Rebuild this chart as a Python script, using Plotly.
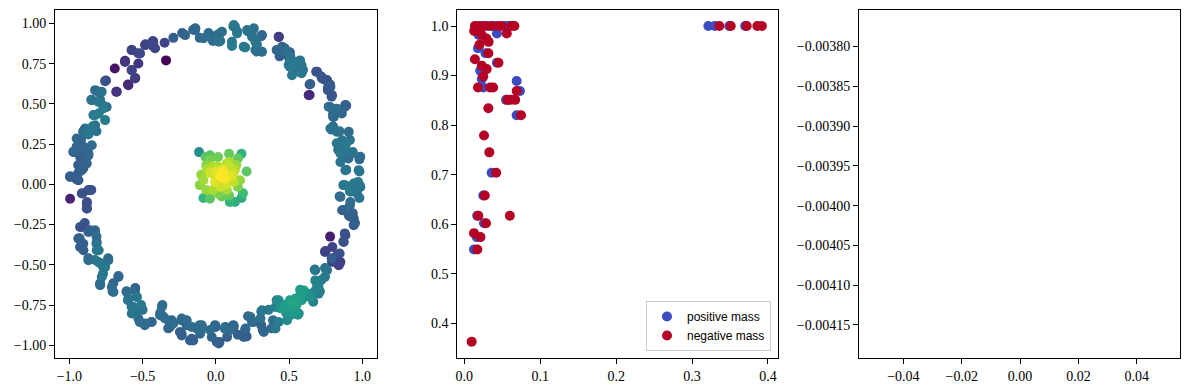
import plotly.graph_objects as go

# ---------------- Left panel: ring + core, coloured by value (viridis) ----------------
ring_x = [-0.29, -0.23, -0.155, -0.14, -0.11, -0.05, -0.02, 0.03, 0.03, 0.12, 0.13, 0.145, 0.11, 0.20, 0.22,
          0.255, 0.27, 0.28, 0.31, 0.31, 0.28,
          -0.34, -0.35, -0.43, -0.48, -0.43, -0.53, -0.575, -0.69, -0.62, -0.575, -0.55, -0.60, -0.75, -0.68,
          -0.815, -0.85, -0.79, -0.77, -0.745, -0.80, -0.825, -0.84, -0.88, -0.905, -0.87, -0.815, -0.92, -0.95,
          -0.97, -0.92, -0.94, -0.87, -0.89, -0.905, -0.995, -0.95, -0.94,
          -0.995, -0.91, -0.87, -0.85, -0.88, -0.88, -0.915, -0.895, -0.93, -0.905, -0.86, -0.825, -0.815, -0.815,
          -0.80, -0.87, -0.825, -0.79, -0.77, -0.735, -0.77, -0.79, -0.70, -0.705, -0.665, -0.61, -0.60, -0.55,
          -0.54, -0.575, -0.55, -0.51, -0.50, -0.52, -0.485, -0.44, -0.365, -0.38, -0.36, -0.315, -0.325, -0.29,
          -0.235, -0.235, -0.20, -0.165, -0.13, -0.11, -0.10, -0.04, -0.005, 0.025, 0.06, 0.095, 0.12, 0.15,
          0.20, 0.21, 0.22, 0.255, 0.31, 0.31, 0.32, 0.36, 0.38, 0.39, 0.415, 0.44, 0.47, 0.48, 0.505, 0.53,
          0.55, 0.56, 0.575, 0.585, 0.61, 0.63, 0.665, 0.675, 0.70, 0.71, 0.675, 0.72, 0.685, 0.745, 0.745,
          0.79, 0.845, 0.845, 0.795, 0.78, 0.745, 0.87, 0.88, 0.915, 0.95, 0.935, 0.915, 0.87, 0.925, 0.98,
          0.98, 0.97, 0.87, 0.915, 0.845, 0.98, 0.98, 0.89, 0.905, 0.87, 0.935, 0.915, 0.89, 0.87, 0.825,
          0.835, 0.80, 0.79, 0.845, 0.80, 0.80, 0.86, 0.88, 0.825, 0.89, 0.78, 0.765, 0.745, 0.72, 0.685,
          0.765, 0.79, 0.78, 0.64, 0.64, 0.505, 0.54, 0.575, 0.585, 0.55, 0.53, 0.585, 0.595, 0.505, 0.48,
          0.435, 0.415, 0.435, 0.47, 0.505, 0.43,
          # upper-left arc
          -0.21, -0.142, -0.083, -0.017, 0.017, -0.427, -0.483, -0.415, -0.517, -0.574, -0.529, -0.620,
          -0.574, -0.552, -0.597, -0.756, -0.676, -0.824, -0.779, -0.847, -0.802, -0.768, -0.756, -0.836,
          -0.824, -0.893, -0.870, -0.904, -0.95, -0.973, -0.904, -0.847, -0.870, -0.927, -0.881, -0.915,
          -0.995, -0.95, -0.938,
          # upper-right arc
          0.008, 0.042, 0.020, 0.122, 0.145, 0.11, 0.19, 0.213, 0.259, 0.247, 0.27, 0.315, 0.27, 0.315,
          0.429, 0.418, 0.452, 0.486, 0.509, 0.497, 0.532, 0.577, 0.566, 0.52, 0.691, 0.725, 0.759, 0.645,
          0.634, 0.782, 0.793, 0.884, 0.85, 0.77, 0.805, 0.782, 0.828, 0.907, 0.862, 0.884, 0.85, 0.929,
          0.986, 0.85, 0.884, 0.975,
          # lower-left arc
          -0.915, -0.859, -0.881, -0.881, -0.904, -0.927, -0.870, -0.824, -0.813, -0.939, -0.927, -0.904,
          -0.813, -0.870, -0.802, -0.734, -0.756, -0.779, -0.665, -0.79, -0.71, -0.699, -0.608, -0.552,
          -0.597, -0.54, -0.563, -0.517, -0.574, -0.529, -0.483, -0.438, -0.369, -0.381, -0.347, -0.301,
          -0.313, -0.233, -0.199, -0.245, -0.233, -0.165, -0.154, -0.096, -0.108, -0.028, -0.005, 0.006,
          -0.176,
          # lower-right arc
          0.884, 0.941, 0.986, 0.964, 0.85, 0.918, 0.862, 0.907, 0.941, 0.941, 0.884, 0.873, 0.748, 0.828,
          0.793, 0.85, 0.839, 0.679, 0.759, 0.679, 0.691, 0.702, 0.600, 0.577, 0.645, 0.543, 0.52, 0.486,
          0.429, 0.463, 0.407, 0.543, 0.566, 0.509, 0.486, 0.429, 0.407, 0.327, 0.315, 0.304, 0.236, 0.247,
          0.202, 0.19, 0.122, 0.065, 0.077, 0.02, -0.003]
ring_y = [0.91, 0.94, 0.96, 0.97, 0.91, 0.94, 0.89, 0.94, 0.89, 0.98, 0.98, 0.95, 0.86, 0.85, 0.95,
          0.96, 0.90, 0.87, 0.92, 0.825, 0.825,
          0.77, 0.88, 0.89, 0.87, 0.86, 0.815, 0.835, 0.72, 0.76, 0.71, 0.66, 0.62, 0.645, 0.575,
          0.58, 0.525, 0.525, 0.49, 0.48, 0.44, 0.43, 0.36, 0.34, 0.33, 0.31, 0.33, 0.275, 0.235,
          0.20, 0.19, 0.12, 0.18, 0.14, 0.10, 0.05, 0.03, 0.07,
          -0.09, -0.055, -0.035, -0.035, -0.11, -0.15, -0.265, -0.24, -0.335, -0.37, -0.285, -0.285, -0.325, -0.37,
          -0.41, -0.46, -0.47, -0.49, -0.51, -0.46, -0.555, -0.615, -0.615, -0.665, -0.57, -0.665, -0.72, -0.645,
          -0.70, -0.76, -0.80, -0.75, -0.78, -0.855, -0.875, -0.855, -0.75, -0.80, -0.82, -0.855, -0.895, -0.865,
          -0.845, -0.925, -0.875, -0.96, -0.895, -0.875, -0.905, -0.905, -0.875, -0.98, -0.895, -0.905, -0.875, -0.935,
          -0.905, -0.945, -0.82, -0.855, -0.79, -0.875, -0.905, -0.78, -0.895, -0.845, -0.72, -0.77, -0.75, -0.80, -0.72, -0.79,
          -0.75, -0.81, -0.655, -0.72, -0.70, -0.68, -0.73, -0.665, -0.635, -0.665, -0.53, -0.595, -0.605, -0.575, -0.52,
          -0.46, -0.43, -0.49, -0.39, -0.325, -0.42, -0.355, -0.305, -0.20, -0.24, -0.18, -0.13, -0.16, -0.045, -0.085,
          -0.005, 0.015, -0.005, -0.045, -0.075, 0.08, 0.155, 0.09, 0.16, 0.19, 0.20, 0.275, 0.255, 0.235, 0.255,
          0.215, 0.36, 0.34, 0.33, 0.42, 0.435, 0.44, 0.48, 0.47, 0.49, 0.48, 0.60, 0.65, 0.67, 0.70,
          0.585, 0.545, 0.62, 0.62, 0.555, 0.77, 0.76, 0.77, 0.74, 0.73, 0.70, 0.69, 0.71, 0.73, 0.805,
          0.825, 0.835, 0.795, 0.845, 0.82, 0.915,
          # upper-left arc
          0.927, 0.958, 0.907, 0.896, 0.907, 0.886, 0.865, 0.845, 0.813, 0.834, 0.751, 0.767,
          0.709, 0.658, 0.616, 0.641, 0.575, 0.585, 0.575, 0.523, 0.513, 0.471, 0.399, 0.43,
          0.367, 0.347, 0.326, 0.326, 0.285, 0.202, 0.233, 0.243, 0.192, 0.170, 0.129, 0.088,
          0.046, 0.046, 0.025,
          # upper-right arc
          0.927, 0.948, 0.886, 0.99, 0.938, 0.886, 0.855, 0.958, 0.969, 0.917, 0.886, 0.927, 0.834, 0.824,
          0.917, 0.834, 0.855, 0.824, 0.793, 0.741, 0.709, 0.751, 0.699, 0.678, 0.699, 0.658, 0.648, 0.623,
          0.554, 0.606, 0.554, 0.492, 0.461, 0.482, 0.419, 0.347, 0.326, 0.326, 0.274, 0.233, 0.192, 0.192,
          0.171, 0.139, 0.088, 0.088,
          # lower-left arc
          -0.057, -0.037, -0.12, -0.15, -0.254, -0.265, -0.296, -0.296, -0.358, -0.337, -0.389, -0.41,
          -0.41, -0.472, -0.483, -0.472, -0.514, -0.576, -0.576, -0.627, -0.638, -0.669, -0.669, -0.659,
          -0.71, -0.70, -0.762, -0.762, -0.803, -0.834, -0.865, -0.855, -0.762, -0.814, -0.834, -0.845,
          -0.886, -0.834, -0.845, -0.918, -0.939, -0.886, -0.97, -0.876, -0.928, -0.949, -0.886, -0.98,
          -0.97,
          # lower-right arc
          -0.006, 0.005, -0.016, -0.057, -0.078, -0.11, -0.161, -0.193, -0.213, -0.254, -0.317, -0.358, -0.414, -0.441,
          -0.483, -0.483, -0.503, -0.534, -0.534, -0.597, -0.638, -0.679, -0.659, -0.69, -0.70, -0.71, -0.741, -0.752,
          -0.72, -0.772, -0.762, -0.793, -0.803, -0.814, -0.845, -0.855, -0.896, -0.918, -0.783, -0.834, -0.824, -0.855,
          -0.896, -0.948, -0.886, -0.886, -0.948, -0.989, -0.886]
ring_c = [0.30, 0.30, 0.32, 0.33, 0.33, 0.35, 0.36, 0.37, 0.38, 0.40, 0.40, 0.40, 0.42, 0.40, 0.38,
          0.37, 0.36, 0.38, 0.33, 0.35, 0.36,
          0.00, 0.20, 0.20, 0.20, 0.22, 0.20, 0.15, 0.05, 0.15, 0.20, 0.15, 0.10, 0.15, 0.12,
          0.30, 0.30, 0.35, 0.40, 0.35, 0.42, 0.42, 0.40, 0.38, 0.35, 0.40, 0.38, 0.32, 0.33,
          0.30, 0.30, 0.30, 0.30, 0.32, 0.30, 0.30, 0.28, 0.30,
          0.10, 0.25, 0.25, 0.25, 0.25, 0.25, 0.25, 0.25, 0.30, 0.30, 0.30, 0.33, 0.35, 0.38,
          0.40, 0.33, 0.38, 0.40, 0.40, 0.35, 0.40, 0.30, 0.30, 0.35, 0.30, 0.35, 0.35, 0.30,
          0.35, 0.38, 0.38, 0.40, 0.38, 0.35, 0.35, 0.33, 0.35, 0.35, 0.35, 0.33, 0.33, 0.35,
          0.33, 0.30, 0.33, 0.30, 0.35, 0.35, 0.35, 0.35, 0.33, 0.30, 0.35, 0.35, 0.33, 0.30,
          0.30, 0.28, 0.33, 0.30, 0.35, 0.30, 0.28, 0.40, 0.33, 0.35, 0.45, 0.50, 0.55, 0.50, 0.55, 0.55,
          0.57, 0.50, 0.55, 0.55, 0.50, 0.50, 0.45, 0.45, 0.45, 0.40, 0.40, 0.42, 0.42, 0.40, 0.38,
          0.30, 0.25, 0.20, 0.20, 0.08, 0.20, 0.25, 0.25, 0.30, 0.30, 0.30, 0.35, 0.30, 0.35, 0.38,
          0.40, 0.40, 0.38, 0.40, 0.35, 0.38, 0.35, 0.35, 0.35, 0.38, 0.38, 0.38, 0.40, 0.40, 0.40,
          0.35, 0.35, 0.38, 0.38, 0.35, 0.33, 0.33, 0.30, 0.35, 0.30, 0.35, 0.25, 0.25, 0.27, 0.25,
          0.27, 0.27, 0.27, 0.25, 0.12, 0.35, 0.40, 0.38, 0.38, 0.38, 0.38, 0.38, 0.38, 0.38, 0.30,
          0.30, 0.30, 0.30, 0.30, 0.28, 0.18,
          # upper-left arc
          0.32, 0.33, 0.35, 0.36, 0.37, 0.20, 0.18, 0.20, 0.22, 0.20, 0.15, 0.12,
          0.20, 0.18, 0.12, 0.25, 0.15, 0.35, 0.38, 0.38, 0.40, 0.42, 0.42, 0.40,
          0.38, 0.35, 0.38, 0.35, 0.33, 0.32, 0.33, 0.35, 0.33, 0.30, 0.32, 0.30,
          0.30, 0.30, 0.28,
          # upper-right arc
          0.36, 0.37, 0.38, 0.40, 0.40, 0.40, 0.40, 0.38, 0.37, 0.38, 0.38, 0.33, 0.36, 0.35,
          0.18, 0.33, 0.33, 0.36, 0.38, 0.40, 0.40, 0.40, 0.40, 0.40, 0.25, 0.27, 0.25, 0.30,
          0.12, 0.28, 0.27, 0.28, 0.30, 0.35, 0.35, 0.38, 0.38, 0.35, 0.38, 0.40, 0.40, 0.35,
          0.35, 0.38, 0.38, 0.38,
          # lower-left arc
          0.25, 0.25, 0.25, 0.25, 0.25, 0.25, 0.30, 0.30, 0.35, 0.30, 0.30, 0.30,
          0.38, 0.35, 0.40, 0.35, 0.40, 0.40, 0.33, 0.35, 0.35, 0.35, 0.35, 0.33,
          0.38, 0.40, 0.40, 0.38, 0.38, 0.35, 0.35, 0.33, 0.35, 0.35, 0.35, 0.33,
          0.33, 0.35, 0.35, 0.30, 0.30, 0.35, 0.30, 0.35, 0.33, 0.33, 0.33, 0.30,
          0.30,
          # lower-right arc
          0.40, 0.40, 0.38, 0.38, 0.35, 0.35, 0.32, 0.30, 0.28, 0.28, 0.25, 0.25, 0.15, 0.20,
          0.20, 0.18, 0.15, 0.40, 0.38, 0.45, 0.45, 0.42, 0.55, 0.55, 0.50, 0.57, 0.58, 0.55,
          0.48, 0.55, 0.45, 0.52, 0.50, 0.50, 0.48, 0.42, 0.40, 0.33, 0.40, 0.38, 0.35, 0.35,
          0.33, 0.30, 0.33, 0.33, 0.30, 0.30, 0.33]

core_x = [-0.115, -0.04, 0.015, 0.09, 0.175, 0.21, 0.095, 0.015, -0.065, -0.10, -0.11, -0.085, -0.04, 0.04,
          0.095, 0.13, 0.185, 0.175, 0.15, 0.12, 0.06, 0.03, -0.005, -0.04, 0.03, -0.02, -0.065, 0.075, 0.12,
          0.165, 0.05, 0.005, 0.095, 0.14, -0.04, 0.15, -0.085, -0.02, 0.075, 0.04,
          0.10, 0.00, 0.07, -0.06, 0.13, 0.02, 0.09, -0.07]
core_y = [0.20, 0.18, 0.17, 0.19, 0.19, 0.08, 0.14, 0.11, 0.12, 0.06, -0.005, -0.085, -0.09, -0.075,
          -0.11, -0.11, -0.055, -0.085, -0.015, 0.07, 0.035, 0.05, 0.015, 0.07, -0.015, -0.035, -0.035, -0.035, 0.015,
          0.025, 0.09, 0.08, 0.11, 0.12, 0.15, 0.16, 0.025, 0.11, 0.13, 0.07,
          0.05, 0.04, 0.00, 0.09, 0.09, -0.06, -0.07, 0.17]
core_c = [0.50, 0.74, 0.78, 0.76, 0.64, 0.74, 0.86, 0.88, 0.82, 0.84, 0.82, 0.66, 0.74, 0.76,
          0.66, 0.63, 0.68, 0.62, 0.80, 0.93, 0.99, 1.00, 0.95, 0.93, 0.92, 0.87, 0.84, 0.87, 0.91,
          0.84, 0.97, 0.95, 0.91, 0.84, 0.79, 0.76, 0.86, 0.89, 0.89, 0.99,
          0.96, 0.94, 0.93, 0.87, 0.89, 0.80, 0.76, 0.74]

# ---------------- Middle panel: positive / negative mass ----------------
pos_x = [0.016, 0.023, 0.032, 0.040, 0.054, 0.058, 0.3215, 0.330, 0.349, 0.370,
         0.043, 0.019, 0.018, 0.028, 0.043, 0.021, 0.023, 0.069, 0.025, 0.0734, 0.055, 0.069,
         0.036, 0.025, 0.017, 0.026, 0.0165, 0.0128]
pos_y = [1.0, 1.0, 1.0, 1.0, 1.0, 1.0, 1.0, 1.0, 1.0, 1.0,
         0.985, 0.982, 0.955, 0.945, 0.926, 0.91, 0.893, 0.889, 0.876, 0.869, 0.851, 0.82,
         0.704, 0.658, 0.617, 0.602, 0.574, 0.549]
neg_x = [0.014, 0.0194, 0.027, 0.036, 0.045, 0.049, 0.062, 0.066, 0.336, 0.351, 0.372, 0.386, 0.392,
         0.013, 0.023, 0.029, 0.032, 0.056, 0.020, 0.0317, 0.045, 0.014, 0.023, 0.0295, 0.025,
         0.018, 0.034, 0.038, 0.069, 0.057, 0.061, 0.067, 0.0317, 0.0747, 0.026, 0.033, 0.042,
         0.027, 0.0185, 0.060, 0.0286, 0.0128, 0.0213, 0.0172, 0.0097]
neg_y = [1.0, 1.0, 1.0, 1.0, 1.0, 1.0, 1.0, 1.0, 1.0, 1.0, 1.0, 1.0, 1.0,
         0.99, 0.982, 0.975, 0.968, 0.985, 0.962, 0.945, 0.926, 0.933, 0.92, 0.913, 0.898,
         0.876, 0.876, 0.876, 0.869, 0.851, 0.851, 0.851, 0.834, 0.82, 0.779, 0.745, 0.704,
         0.658, 0.617, 0.617, 0.602, 0.582, 0.574, 0.549, 0.363]
series_names = ["positive mass", "negative mass"]

# ---------------- Right panel: empty axes ----------------
right_x_ticks = [-0.04, -0.02, 0.0, 0.02, 0.04]
right_y_ticks = [-0.00380, -0.00385, -0.00390, -0.00395, -0.00400, -0.00405, -0.00410, -0.00415]

# the page body has an 8px margin: size the figure so it sits where the reference does
OFF = 8
W, H = 1189 - OFF, 390 - OFF
BLUE = "#3b4cc0"
RED = "#b40426"
MS = 10


def fx(px):
    return (px - OFF) / W


def fy(py):
    return 1 - (py - OFF) / H


fig = go.Figure()

all_x = ring_x + core_x
all_y = ring_y + core_y
all_c = ring_c + core_c
order = sorted(range(len(all_c)), key=lambda i: all_c[i])
fig.add_trace(go.Scatter(
    x=[all_x[i] for i in order], y=[all_y[i] for i in order], mode="markers",
    marker=dict(size=MS, color=[all_c[i] for i in order], colorscale="Viridis", cmin=0, cmax=1,
                line=dict(width=0)),
    showlegend=False, xaxis="x", yaxis="y", hoverinfo="skip"))

fig.add_trace(go.Scatter(x=pos_x, y=pos_y, mode="markers", name=series_names[0],
                         marker=dict(size=MS, color=BLUE, line=dict(width=0)),
                         xaxis="x2", yaxis="y2"))
fig.add_trace(go.Scatter(x=neg_x, y=neg_y, mode="markers", name=series_names[1],
                         marker=dict(size=MS, color=RED, line=dict(width=0)),
                         xaxis="x2", yaxis="y2"))
fig.add_trace(go.Scatter(x=[], y=[], mode="markers", showlegend=False, xaxis="x3", yaxis="y3"))

tickfont = dict(family="Liberation Serif, Times New Roman, serif", size=14, color="black")
common = dict(showline=True, linecolor="black", linewidth=1, mirror=True, ticks="outside",
              ticklen=5, tickwidth=0.9, tickcolor="black", showgrid=False, zeroline=False,
              tickfont=tickfont)

ydom = [fy(358.3), fy(10)]
fig.update_layout(
    width=W, height=H, margin=dict(l=0, r=0, t=0, b=0),
    paper_bgcolor="white", plot_bgcolor="white", template="none",
    xaxis=dict(domain=[fx(55), fx(377)], range=[-1.098, 1.1],
               tickvals=[-1.0, -0.5, 0.0, 0.5, 1.0], tickformat=".1f", anchor="y", **common),
    yaxis=dict(domain=ydom, range=[-1.081, 1.083],
               tickvals=[-1.0, -0.75, -0.5, -0.25, 0.0, 0.25, 0.5, 0.75, 1.0], tickformat=".2f",
               anchor="x", **common),
    xaxis2=dict(domain=[fx(457.3), fx(778.3)], range=[-0.0092, 0.4136],
                tickvals=[0.0, 0.1, 0.2, 0.3, 0.4], tickformat=".1f", anchor="y2", **common),
    yaxis2=dict(domain=ydom, range=[0.3294, 1.0323],
                tickvals=[0.4, 0.5, 0.6, 0.7, 0.8, 0.9, 1.0], tickformat=".1f", anchor="x2", **common),
    xaxis3=dict(domain=[fx(859), fx(1180)], range=[-0.0552, 0.0548],
                tickvals=right_x_ticks, tickformat=".2f", anchor="y3", **common),
    yaxis3=dict(domain=ydom, range=[-0.004192, -0.003754],
                tickvals=right_y_ticks, tickformat=".5f", anchor="x3", **common),
    legend=dict(x=fx(771), y=fy(351), xanchor="right", yanchor="bottom",
                bgcolor="rgba(255,255,255,0.8)", bordercolor="#cccccc", borderwidth=1,
                font=dict(family="Liberation Sans, Arial, sans-serif", size=12, color="black"),
                itemwidth=30),
)

fig.write_html("out.html")
